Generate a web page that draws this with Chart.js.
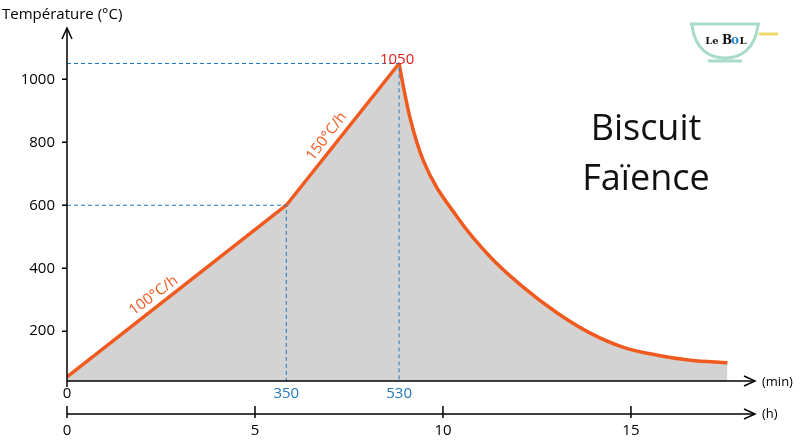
<!DOCTYPE html>
<html><head><meta charset="utf-8">
<script src="https://cdn.jsdelivr.net/npm/chart.js@4"></script>
<style>html,body{margin:0;background:#fff}#c{display:block}</style>
</head><body>
<div style="width:800px;height:445px"><canvas id="c"></canvas></div>
<script>
// montée (minutes, °C)
const rampMinutes = [0, 350, 530];
const rampTemps = [55, 600, 1050];
// refroidissement (minutes, °C)
const coolMinutes = [530, 537, 548, 569, 623, 676, 728, 783, 835, 888, 942, 995, 1054];
const coolTemps = [1050, 975, 873, 740, 562, 435, 340, 257, 194, 149, 124, 108, 100];
const yTicks = [200, 400, 600, 800, 1000];
const hourTicks = [0, 5, 10, 15];
const markMinutes = [350, 530];
const markTemps = [600, 1050];

const F = '"Open Sans", sans-serif';

const overlay = {
  id: 'overlay',
  afterDatasetsDraw(chart) {
    const ctx = chart.ctx, x = chart.scales.x, y = chart.scales.y, h = chart.scales.h;
    const x0 = x.getPixelForValue(0), yb = y.getPixelForValue(y.min);
    ctx.save();
    ctx.strokeStyle = '#2277bb'; ctx.lineWidth = 1; ctx.setLineDash([4, 3]);
    markMinutes.forEach((m, i) => {
      const px = x.getPixelForValue(m), py = y.getPixelForValue(markTemps[i]);
      ctx.beginPath(); ctx.moveTo(x0, py); ctx.lineTo(px, py); ctx.lineTo(px, yb); ctx.stroke();
    });
    ctx.setLineDash([]);
    ctx.strokeStyle = '#000'; ctx.fillStyle = '#000'; ctx.lineWidth = 1.5;
    const arrow = (x1, y1, dir) => {
      ctx.beginPath();
      if (dir === 'up') { ctx.moveTo(x1 - 5, y1 + 11); ctx.lineTo(x1, y1); ctx.lineTo(x1 + 5, y1 + 11); }
      else { ctx.moveTo(x1 - 11, y1 - 5); ctx.lineTo(x1, y1); ctx.lineTo(x1 - 11, y1 + 5); }
      ctx.stroke();
    };
    ctx.beginPath(); ctx.moveTo(x0, yb + 6); ctx.lineTo(x0, 28); ctx.stroke(); arrow(x0, 28, 'up');
    ctx.beginPath(); ctx.moveTo(x0, yb); ctx.lineTo(755, yb); ctx.stroke(); arrow(755, yb, 'right');
    const yh = 414;
    ctx.beginPath(); ctx.moveTo(x0, yh); ctx.lineTo(755, yh); ctx.stroke(); arrow(755, yh, 'right');
    ctx.font = '15px ' + F; ctx.textAlign = 'right'; ctx.textBaseline = 'middle';
    yTicks.forEach(v => {
      const py = y.getPixelForValue(v);
      ctx.beginPath(); ctx.moveTo(x0 - 5, py); ctx.lineTo(x0, py); ctx.stroke();
      ctx.fillText(String(v), x0 - 12, py);
    });
    ctx.textAlign = 'center'; ctx.textBaseline = 'top';
    ctx.fillText('0', x0, yb + 5);
    hourTicks.forEach(v => {
      const px = h.getPixelForValue(v);
      ctx.beginPath(); ctx.moveTo(px, yh - 8); ctx.lineTo(px, yh + 4); ctx.stroke();
      ctx.fillText(String(v), px, yh + 9);
    });
    ctx.fillStyle = '#2277bb';
    markMinutes.forEach(m => ctx.fillText(String(m), x.getPixelForValue(m), yb + 5));
    ctx.fillStyle = '#000'; ctx.font = '13px ' + F; ctx.textAlign = 'left'; ctx.textBaseline = 'middle';
    ctx.fillText('(min)', 762, yb + 1); ctx.fillText('(h)', 762, yh);
    ctx.font = '15px ' + F; ctx.textBaseline = 'alphabetic';
    ctx.fillText('Température (°C)', 2, 19);
    ctx.fillStyle = '#e0201c'; ctx.textAlign = 'center'; ctx.font = '15px ' + F;
    ctx.fillText('1050', x.getPixelForValue(530) - 2, y.getPixelForValue(1050) + 1);
    ctx.fillStyle = '#f05a1e';
    const rot = (t, a, b, c, d) => {
      const px1 = x.getPixelForValue(a), py1 = y.getPixelForValue(b);
      const px2 = x.getPixelForValue(c), py2 = y.getPixelForValue(d);
      ctx.save(); ctx.translate((px1 + px2) / 2, (py1 + py2) / 2);
      ctx.rotate(Math.atan2(py2 - py1, px2 - px1));
      ctx.fillText(t, 0, -8); ctx.restore();
    };
    rot('100°C/h', 70, 164, 230, 400);
    rot('150°C/h', 390, 690, 470, 900);
    ctx.fillStyle = '#111'; ctx.font = '36px ' + F;
    ctx.fillText('Biscuit', 646, 140); ctx.fillText('Faïence', 646, 190);
    ctx.strokeStyle = '#a8dcc8'; ctx.lineWidth = 3;
    ctx.beginPath(); ctx.moveTo(690, 24); ctx.lineTo(760, 24);
    ctx.moveTo(692, 25); ctx.bezierCurveTo(695, 50, 710, 58, 725, 58); ctx.bezierCurveTo(740, 58, 755, 50, 758, 25);
    ctx.moveTo(708, 61); ctx.lineTo(742, 61); ctx.stroke();
    ctx.strokeStyle = '#ecd96a'; ctx.beginPath(); ctx.moveTo(759, 34); ctx.lineTo(778, 34); ctx.stroke();
    ctx.fillStyle = '#111'; ctx.font = 'bold 10px "DejaVu Serif", serif';
    ctx.fillText('Le', 712, 44); ctx.font = 'bold 12px "DejaVu Serif", serif'; ctx.fillText('B', 727, 44);
    ctx.fillStyle = '#2a8ad0'; ctx.fillText('o', 735, 44); ctx.fillStyle = '#111'; ctx.font = 'bold 10px "DejaVu Serif", serif'; ctx.fillText('L', 743, 44);
    ctx.restore();
  }
};

const common = { borderColor: '#f05a1e', borderWidth: 3.5, backgroundColor: '#d3d3d3', fill: 'origin', pointRadius: 0, borderJoinStyle: 'round' };

new Chart(document.getElementById('c'), {
  type: 'line',
  data: {
    datasets: [
      Object.assign({ data: rampMinutes.map((m, i) => ({ x: m, y: rampTemps[i] })), tension: 0 }, common),
      Object.assign({ data: coolMinutes.map((m, i) => ({ x: m, y: coolTemps[i] })), cubicInterpolationMode: 'monotone' }, common)
    ]
  },
  options: {
    responsive: true, maintainAspectRatio: false, animation: false,
    layout: { padding: { left: 67, right: 50, top: 32, bottom: 64 } },
    plugins: { legend: { display: false }, tooltip: { enabled: false } },
    scales: {
      x: { type: 'linear', min: 0, max: 1090, display: false },
      h: { type: 'linear', axis: 'x', min: 0, max: 1090 / 60, display: false },
      y: { min: 42, max: 1150, display: false }
    }
  },
  plugins: [overlay]
});
</script>
</body></html>
